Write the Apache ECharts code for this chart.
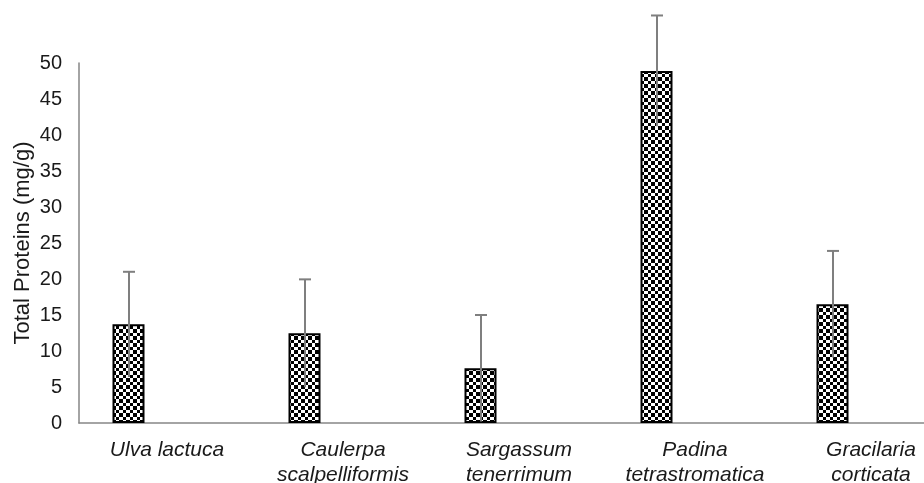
<!DOCTYPE html>
<html>
<head>
<meta charset="utf-8">
<script src="https://cdn.jsdelivr.net/npm/echarts@6/dist/echarts.min.js"></script>
<style>
html,body{margin:0;padding:0;background:#fff;overflow:hidden;}
#chart{width:959px;height:483px;}
</style>
</head>
<body>
<div id="chart"></div>
<script>
var categories = ['Ulva lactuca', 'Caulerpa\nscalpelliformis', 'Sargassum\ntenerrimum', 'Padina\ntetrastromatica', 'Gracilaria\ncorticata'];
var proteinValues = [13.7, 12.45, 7.6, 48.9, 16.5];
var proteinErrors = [7.3, 7.5, 7.4, 7.7, 7.4];
var yTicks = [0, 5, 10, 15, 20, 25, 30, 35, 40, 45, 50];

var BAR_W = 32, GAP = 45;

function makePattern() {
  var c = document.createElement('canvas');
  c.width = 7; c.height = 7;
  var ctx = c.getContext('2d');
  ctx.fillStyle = '#fff'; ctx.fillRect(0, 0, 7, 7);
  ctx.fillStyle = '#000';
  ctx.fillRect(0, 0, 4, 4);
  ctx.fillRect(4, 4, 3, 3);
  return c;
}

var chart = echarts.init(document.getElementById('chart'), null, {renderer: 'canvas'});
var font = '"Liberation Sans", Arial, sans-serif';
chart.setOption({
  animation: false,
  backgroundColor: '#fff',
  grid: {left: 79, top: 63, right: 0, bottom: 60, containLabel: false, outerBoundsMode: 'none'},
  xAxis: {
    type: 'category',
    data: categories,
    axisLine: {lineStyle: {color: '#868686', width: 1.5}},
    axisTick: {show: false},
    axisLabel: {
      interval: 0, margin: 15, color: '#1a1a1a', fontSize: 21,
      fontStyle: 'italic', fontFamily: font, lineHeight: 25
    }
  },
  yAxis: {
    type: 'value', min: yTicks[0], max: yTicks[yTicks.length - 1], interval: 5,
    name: 'Total Proteins (mg/g)', nameLocation: 'middle', nameGap: 45, nameMoveOverlap: false,
    nameTextStyle: {color: '#1a1a1a', fontSize: 22, fontFamily: font},
    axisLine: {show: true, lineStyle: {color: '#868686', width: 1.5}},
    axisTick: {show: false},
    splitLine: {show: false},
    axisLabel: {color: '#1a1a1a', fontSize: 20, fontFamily: font, margin: 17}
  },
  series: [
    {
      type: 'bar', data: proteinValues, barWidth: BAR_W, barGap: (GAP / BAR_W * 100) + '%',
      itemStyle: {
        color: {image: makePattern(), repeat: 'repeat'},
        borderColor: '#000', borderWidth: 2
      },
      z: 2
    },
    {
      type: 'bar', data: proteinValues.map(function(){ return '-'; }), barWidth: BAR_W,
      itemStyle: {color: 'transparent'}
    },
    {
      type: 'custom', clip: false, z: 5,
      data: proteinValues.map(function(v, i){ return [i, v, proteinErrors[i]]; }),
      renderItem: function(params, api) {
        var i = api.value(0), v = api.value(1), e = api.value(2);
        var off = (BAR_W + GAP) / 2;
        var top = api.coord([i, v + e]);
        var bot = api.coord([i, v - e]);
        var x = Math.round(top[0] - off);
        var style = {stroke: '#7f7f7f', lineWidth: 2};
        return {
          type: 'group',
          children: [
            {type: 'line', shape: {x1: x, y1: top[1], x2: x, y2: bot[1]}, style: style},
            {type: 'line', shape: {x1: x - 6, y1: top[1], x2: x + 6, y2: top[1]}, style: style}
          ]
        };
      }
    }
  ]
});
</script>
</body>
</html>
